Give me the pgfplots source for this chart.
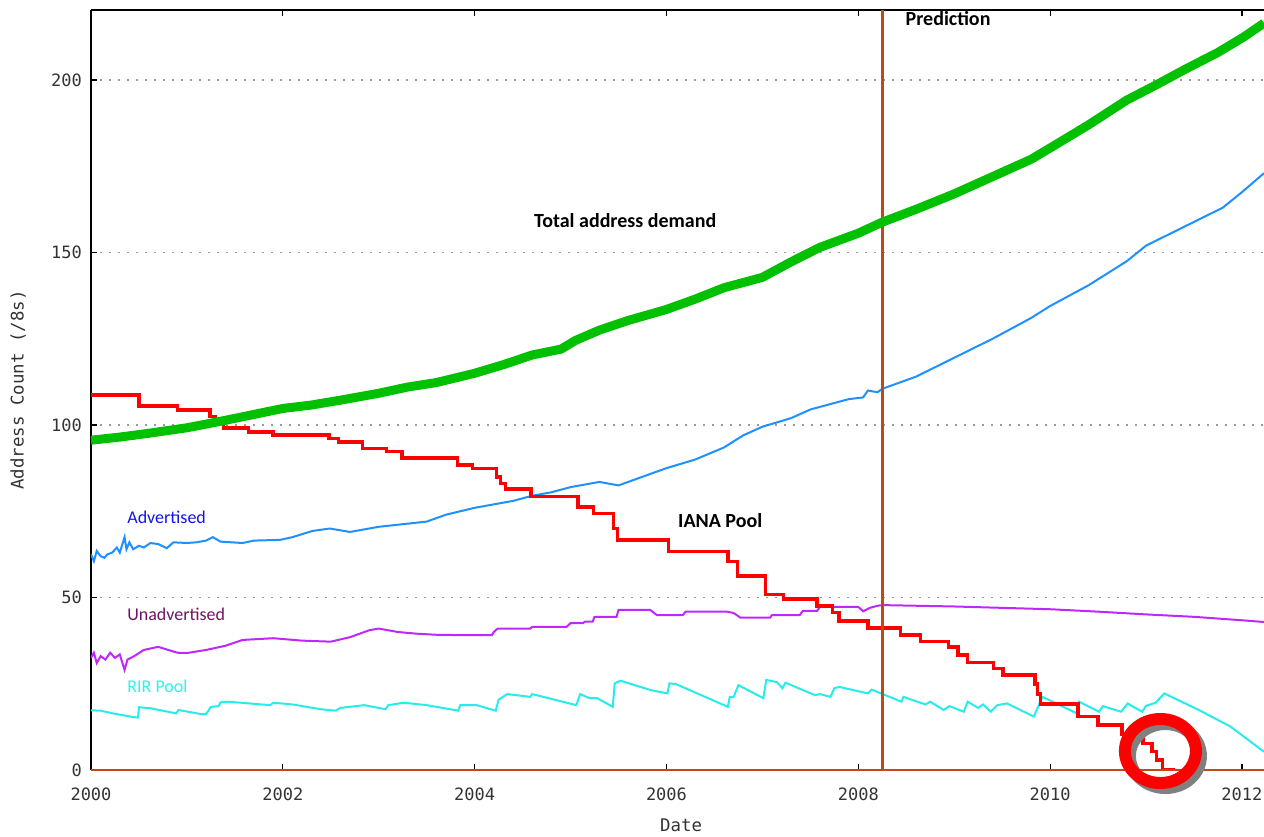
\documentclass[border=0pt]{standalone}
\usepackage{fontspec}
\usepackage{pgfplots}
\pgfplotsset{compat=1.18}
\setmonofont{DejaVu Sans Mono}
\newfontfamily\carlito{Carlito}
\definecolor{cgreen}{RGB}{0,192,0}
\definecolor{cred}{RGB}{255,0,0}
\definecolor{cblue}{RGB}{30,144,255}
\definecolor{cpurple}{RGB}{190,40,255}
\definecolor{ccyan}{RGB}{40,235,235}
\definecolor{cbrown}{RGB}{190,75,20}
\definecolor{tblue}{RGB}{20,20,230}
\definecolor{tpurple}{RGB}{110,20,100}
\definecolor{tcyan}{RGB}{50,240,240}
\definecolor{cgrey}{RGB}{128,128,128}
\begin{document}
\begin{tikzpicture}
\begin{axis}[
  at={(0,0)}, anchor=south west,
  scale only axis, width=586.5pt, height=380pt,
  xmin=2000, xmax=2012.23, ymin=0, ymax=220.3,
  axis x line*=box, axis y line*=left,
  xtick={2000,2002,2004,2006,2008,2010,2012},
  ytick={0,50,100,150,200},
  tick align=inside, major tick length=3pt,
  tick style={black, line width=0.6pt},
  axis line style={black, line width=0.8pt},
  /pgf/number format/assume math mode=true,
  tick label style={font=\ttfamily\fontsize{8.5}{10}\selectfont, text=black!80},
  xticklabel style={/pgf/number format/1000 sep={}, yshift=-5.5pt},
  yticklabel style={xshift=-1pt},
  ymajorgrids,
  grid style={cgrey!80, line width=0.9pt, dash pattern=on 1.2pt off 3.3pt},
  xlabel={Date}, ylabel={Address Count (/8s)},
  label style={font=\ttfamily\fontsize{8.7}{10}\selectfont, text=black!80},
  xlabel style={at={(axis description cs:0.503,-0.073)}, anchor=center},
  ylabel style={at={(axis description cs:-0.062,0.5)}, anchor=center},
]
% RIR Pool
\addplot[ccyan, line width=1pt] coordinates {
(2000,17.3)(2000.1,17.2)(2000.23,16.4)(2000.43,15.4)(2000.49,15.2)(2000.5,18.2)(2000.62,17.9)
(2000.89,16.4)(2000.91,17.4)(2001.15,16.2)(2001.2,16.2)(2001.25,18.3)(2001.33,18.5)(2001.35,19.6)
(2001.43,19.8)(2001.87,18.8)(2001.9,19.5)(2002.1,19)(2002.4,17.6)(2002.55,17.2)(2002.6,18)
(2002.85,18.8)(2003.07,17.6)(2003.1,18.8)(2003.26,19.5)(2003.5,18.8)(2003.83,17.2)(2003.85,18.8)
(2004.02,18.8)(2004.22,17.2)(2004.25,20.4)(2004.34,22)(2004.58,21.2)(2004.6,22)(2005.06,18.8)
(2005.1,22)(2005.2,20.8)(2005.28,20.8)(2005.44,18.3)(2005.46,25.1)(2005.52,25.9)(2005.83,23.2)
(2006.01,22.2)(2006.03,25.1)(2006.1,24.9)(2006.64,18.3)(2006.66,21.2)(2006.7,21.2)(2006.75,24.6)
(2007.01,20.8)(2007.04,26.1)(2007.15,25.5)(2007.21,23.7)(2007.24,25.3)(2007.55,21.7)(2007.6,22)
(2007.71,21.2)(2007.75,23.7)(2007.8,24.1)(2008.1,22.2)(2008.14,23.3)(2008.45,19.8)(2008.47,21.2)
(2008.7,19)(2008.75,19.8)(2008.89,17.4)(2008.95,18.5)(2009.1,16.9)(2009.14,19.8)(2009.25,18)
(2009.3,19)(2009.38,16.9)(2009.45,18.8)(2009.55,19.3)(2009.83,15.5)(2009.92,21.2)(2010.28,16.4)
(2010.3,19.8)(2010.51,16.9)(2010.55,18.5)(2010.74,16.9)(2010.81,19.3)(2010.85,18.6)(2010.96,16.9)
(2011.0,18.6)(2011.1,19.5)(2011.19,22.2)(2011.55,17.4)(2011.88,12.6)(2012.09,8.2)(2012.23,5.3)
};
% Unadvertised
\addplot[cpurple, line width=1pt] coordinates {
(2000,32.5)(2000.03,34)(2000.06,31)(2000.1,33)(2000.15,32)(2000.2,34)(2000.25,32.5)(2000.3,33.5)
(2000.35,29)(2000.38,32)(2000.45,33)(2000.55,34.8)(2000.7,35.7)(2000.9,34)(2001,33.9)(2001.2,34.8)
(2001.4,36)(2001.58,37.7)(2001.9,38.2)(2002.2,37.5)(2002.5,37.2)(2002.7,38.5)(2002.9,40.5)(2003,41)
(2003.2,40)(2003.4,39.5)(2003.6,39.2)(2003.85,39.1)(2004.18,39.1)(2004.2,40)(2004.24,41)(2004.58,41)
(2004.6,41.5)(2004.96,41.5)(2005,42.6)(2005.13,42.6)(2005.15,43)(2005.23,43)(2005.25,44.4)(2005.48,44.4)
(2005.5,46.4)(2005.83,46.4)(2005.9,44.9)(2006.17,44.9)(2006.2,45.9)(2006.63,45.9)(2006.7,45.5)
(2006.77,44.2)(2007.08,44.2)(2007.1,44.9)(2007.39,44.9)(2007.42,46.1)(2007.57,46.1)(2007.6,47.3)
(2008.0,47.3)(2008.05,46)(2008.12,47)(2008.2,47.6)(2008.25,47.8)(2009,47.4)(2010,46.6)(2010.5,45.9)
(2011,45.1)(2011.5,44.4)(2012,43.4)(2012.23,42.9)
};
% Advertised
\addplot[cblue, line width=1pt] coordinates {
(2000,62.5)(2000.03,60.5)(2000.06,63.5)(2000.1,62)(2000.14,61.5)(2000.17,62.5)(2000.22,63)(2000.27,64.5)
(2000.3,63)(2000.35,67.5)(2000.37,64)(2000.4,66)(2000.44,64)(2000.5,65)(2000.55,64.5)(2000.62,65.8)
(2000.7,65.5)(2000.79,64.3)(2000.86,66)(2001,65.8)(2001.1,66)(2001.2,66.5)(2001.27,67.5)(2001.35,66.2)
(2001.58,65.8)(2001.7,66.5)(2001.97,66.7)(2002.1,67.5)(2002.31,69.3)(2002.49,70)(2002.7,69)(2003,70.5)
(2003.5,72)(2003.7,74)(2004,76)(2004.2,77)(2004.4,78)(2004.6,79.5)(2004.8,80.5)(2005,82)(2005.3,83.5)
(2005.5,82.5)(2005.7,84.5)(2006,87.5)(2006.3,90)(2006.6,93.5)(2006.8,97)(2007,99.5)(2007.3,102)
(2007.5,104.5)(2007.7,106)(2007.9,107.5)(2008.05,108)(2008.1,110)(2008.2,109.5)(2008.25,110.5)
(2008.6,114)(2009,119.5)(2009.4,125)(2009.8,131)(2010,134.5)(2010.4,140.5)(2010.8,147.5)(2011,152)
(2011.4,157.5)(2011.8,163)(2012,167.5)(2012.23,173)
};
% IANA Pool
\addplot[cred, line width=1.75pt, const plot] coordinates {
(2000,108.7)(2000.5,105.5)(2000.9,104.3)(2001.24,102.5)(2001.3,101.5)(2001.38,99.2)(2001.64,98)
(2001.9,97.1)(2002.48,96.1)(2002.58,95.1)(2002.83,93.2)(2003.08,92.3)(2003.24,90.5)(2003.82,88.4)
(2003.98,87.4)(2004.23,85)(2004.27,83)(2004.32,81.5)(2004.59,79.3)(2005.08,76.3)(2005.24,74.4)
(2005.45,70)(2005.49,66.7)(2006.02,63.3)(2006.64,60.5)(2006.74,56.2)(2007.03,50.9)(2007.22,49.6)
(2007.57,47.6)(2007.73,45.7)(2007.8,43.2)(2008.1,41.1)(2008.44,39.1)(2008.65,37.2)(2008.94,35.7)
(2009.04,33.3)(2009.14,31.1)(2009.41,29.4)(2009.51,27.5)(2009.84,25)(2009.87,22)(2009.9,19.1)
(2010.29,15.5)(2010.5,13)(2010.75,10.4)(2010.97,7.7)(2011.06,5.3)(2011.11,2.9)(2011.17,0)(2011.3,0)
};
% Prediction marker
\addplot[cbrown, line width=1.5pt] coordinates {(2008.25,0)(2008.25,220.3)};
\addplot[cbrown, line width=1.1pt] coordinates {(2000,0)(2012.23,0)};
% Total address demand
\addplot[cgreen, line width=4.5pt] coordinates {
(2000,95.6)(2000.3,96.5)(2000.6,97.6)(2001,99.2)(2001.3,100.8)(2001.6,102.5)(2002,104.8)(2002.3,105.8)
(2002.6,107.2)(2003,109.2)(2003.3,111)(2003.6,112.3)(2004,115)(2004.3,117.5)(2004.6,120.3)(2004.9,122)
(2005.05,124.5)(2005.3,127.5)(2005.6,130.3)(2006,133.5)(2006.3,136.5)(2006.6,139.8)(2007,142.8)
(2007.3,147.3)(2007.6,151.5)(2008,155.6)(2008.25,158.8)(2008.6,162.5)(2009,167)(2009.4,172)
(2009.8,177)(2010,180.3)(2010.4,187)(2010.8,194.2)(2011.1,198.5)(2011.4,203)(2011.75,208)
(2012.02,212.5)(2012.23,216.5)
};
\node[font=\carlito\bfseries\fontsize{10}{12}\selectfont, anchor=west, inner sep=0pt] at (axis cs:2008.49,217.7) {Prediction};
\node[font=\carlito\bfseries\fontsize{10}{12}\selectfont, inner sep=0pt] at (axis cs:2005.57,159.4) {Total address demand};
\node[font=\carlito\bfseries\fontsize{10}{12}\selectfont, inner sep=0pt] at (axis cs:2006.56,72.2) {IANA Pool};
\node[font=\carlito\fontsize{9}{11}\selectfont, text=tblue, anchor=west, inner sep=0pt] at (axis cs:2000.375,73.3) {Advertised};
\node[font=\carlito\fontsize{9}{11}\selectfont, text=tpurple, anchor=west, inner sep=0pt] at (axis cs:2000.375,45.2) {Unadvertised};
\node[font=\carlito\fontsize{9}{11}\selectfont, text=tcyan, anchor=west, inner sep=0pt] at (axis cs:2000.375,24.3) {RIR Pool};
\coordinate (circ) at (axis cs:2011.15,5.5);
\end{axis}
\draw[cgrey, line width=6pt] ([shift={(2.5pt,-2.5pt)}]circ) ellipse [x radius=17.75pt, y radius=16pt];
\draw[cred, line width=6pt] (circ) ellipse [x radius=17.75pt, y radius=16pt];
\pgfresetboundingbox
\useasboundingbox (-45.5pt,-33pt) rectangle (586.5pt,385pt);
\end{tikzpicture}
\end{document}
